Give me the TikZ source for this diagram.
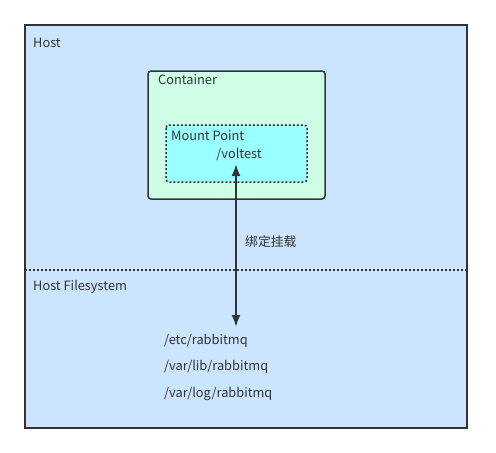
\documentclass[tikz,border=0pt]{standalone}
\usepackage{fontspec}
\setmainfont{Noto Sans CJK SC}
\usetikzlibrary{arrows.meta}
\definecolor{hostblue}{HTML}{CCE5FF}
\definecolor{contgreen}{HTML}{CCFFE6}
\definecolor{mountcyan}{HTML}{99FFFF}
\definecolor{darkline}{HTML}{333333}
\tikzset{
    lbl/.style={anchor=west, text=darkline, inner sep=0pt},
    dotline/.style={draw=darkline, line width=1.5pt, dash pattern=on 2pt off 2pt}
}
\begin{document}
\begin{tikzpicture}[x=1pt,y=-1pt,font=\fontsize{12.8}{15}\selectfont]
        \useasboundingbox (0,0) rectangle (496,453);
        \draw [fill=hostblue, draw=darkline, line width=1.8pt] (25,25) rectangle (467,428);
        \node (host) [lbl] at (33,43) {Host};
        \draw [fill=contgreen, draw=darkline, line width=1.5pt, rounded corners=3pt] (148,71) rectangle (325,199);
        \node (container) [lbl] at (158,80) {Container};
        \draw [fill=mountcyan, dotline, rounded corners=3pt] (166,125) rectangle (307,182);
        \node (mount) [lbl] at (171,136) {Mount Point};
        \node (voltest) [text=darkline] at (239,155) {/voltest};
        \draw [dotline] (25,270) coordinate (l1) -- (467,270) coordinate (l2);
        \node (hostfs) [lbl] at (33,287) {Host Filesystem};
        \coordinate (mnt) at (236,164);
        \coordinate (fs) at (236,327);
        \draw [{Latex[length=12pt,width=9pt]}-{Latex[length=12pt,width=9pt]}, draw=darkline, line width=2pt] (mnt) -- (fs);
        \node (bind) [lbl] at (245,242) {绑定挂载};
        \node (etc) [lbl] at (164,341) {/etc/rabbitmq};
        \node (lib) [lbl] at (164,367) {/var/lib/rabbitmq};
        \node (log) [lbl] at (164,394) {/var/log/rabbitmq};
    \end{tikzpicture}
\end{document}
